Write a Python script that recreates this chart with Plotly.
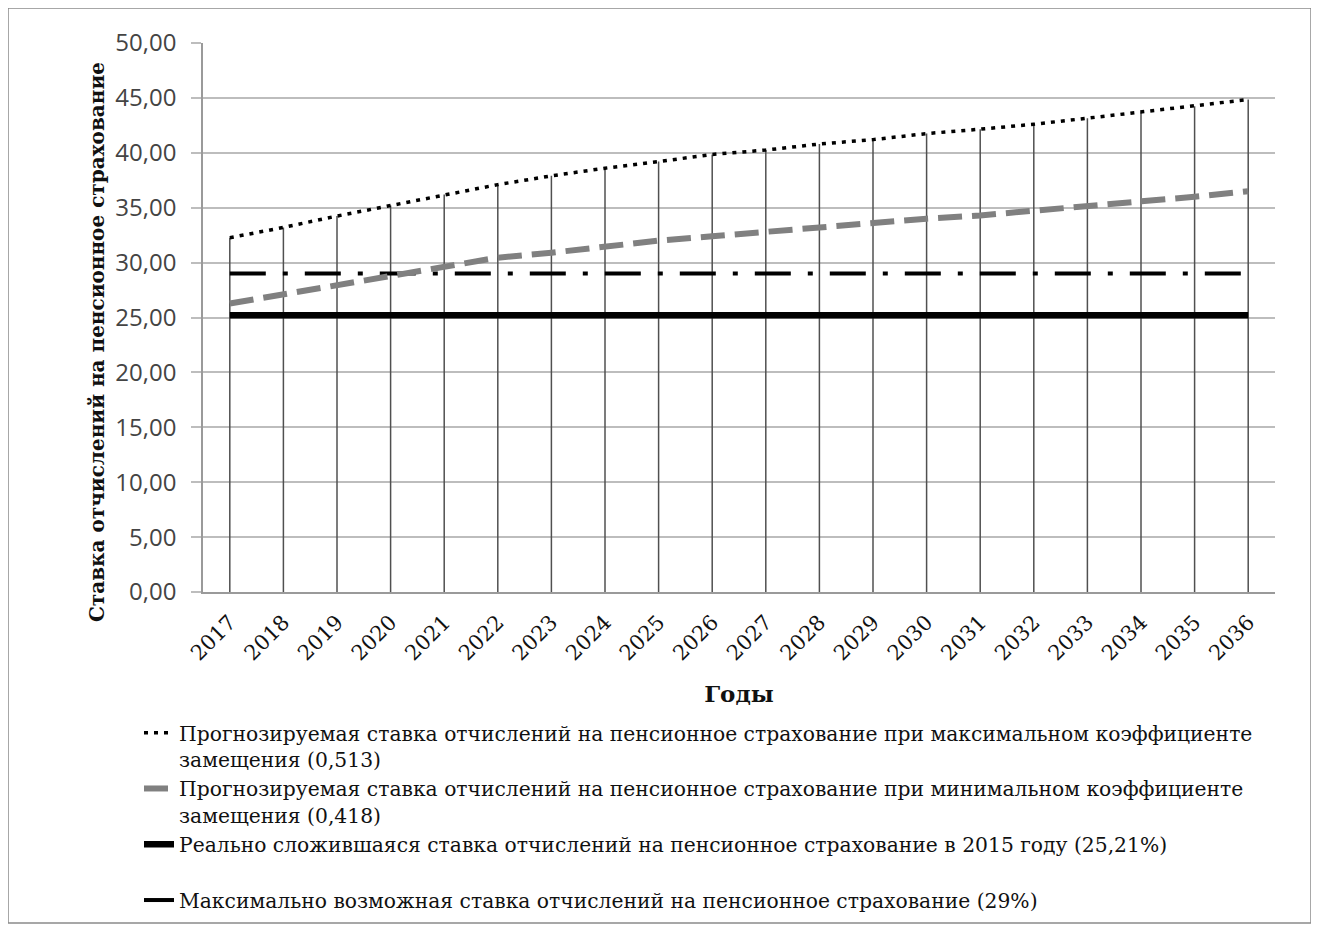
import plotly.graph_objects as go

years = list(range(2017, 2037))
max_rate = [32.27, 33.2, 34.24, 35.2, 36.2, 37.1, 37.9, 38.6, 39.2, 39.85,
            40.25, 40.8, 41.2, 41.75, 42.15, 42.6, 43.15, 43.7, 44.25, 44.85]
min_rate = [26.27, 27.1, 28.0, 28.8, 29.7, 30.45, 30.9, 31.45, 32.0, 32.4,
            32.8, 33.25, 33.6, 34.0, 34.3, 34.7, 35.15, 35.55, 36.0, 36.5]
actual_2015 = [25.21] * len(years)
max_possible = [29.0] * len(years)

names = [
    "Прогнозируемая ставка отчислений на пенсионное страхование при максимальном коэффициенте<br>замещения (0,513)",
    "Прогнозируемая ставка отчислений на пенсионное страхование при минимальном коэффициенте<br>замещения (0,418)",
    "Реально сложившаяся ставка отчислений на пенсионное страхование в 2015 году (25,21%)<br> ",
    "Максимально возможная ставка отчислений на пенсионное страхование (29%)",
]
y_title = "Ставка отчислений на пенсионное страхование"
x_title = "Годы"
y_ticks = [0, 5, 10, 15, 20, 25, 30, 35, 40, 45, 50]

# drop lines: from axis to the highest series value at each year
drop_x, drop_y = [], []
for i, x in enumerate(years):
    top = max(max_rate[i], min_rate[i], actual_2015[i], max_possible[i])
    drop_x += [x, x, None]
    drop_y += [0, top, None]

SERIF = "DejaVu Serif, Liberation Serif, serif"
fig = go.Figure()
fig.add_trace(go.Scatter(x=drop_x, y=drop_y, mode="lines",
                         line=dict(color="#505050", width=1.5),
                         showlegend=False, hoverinfo="skip"))
fig.add_trace(go.Scatter(x=years, y=max_possible, mode="lines", name=names[3],
                         line=dict(color="black", width=4, dash="36px,17px,5px,17px"),
                         legendrank=4))
fig.add_trace(go.Scatter(x=years, y=actual_2015, mode="lines", name=names[2],
                         line=dict(color="black", width=6.5), legendrank=3))
fig.add_trace(go.Scatter(x=years, y=min_rate, mode="lines", name=names[1],
                         line=dict(color="#808080", width=6, dash="24px,10px"),
                         legendrank=2))
fig.add_trace(go.Scatter(x=years, y=max_rate, mode="lines", name=names[0],
                         line=dict(color="black", width=3.5, dash="4px,6px"),
                         legendrank=1))

fig.update_layout(
    width=1311, height=923,
    margin=dict(l=195, r=44, t=35, b=339, autoexpand=False),
    paper_bgcolor="white", plot_bgcolor="white",
    separators=", ",
    showlegend=True,
    legend=dict(x=-0.0597, y=-0.2204, xanchor="left", yanchor="top",
                orientation="v", valign="top", traceorder="normal",
                font=dict(family=SERIF, size=20.3, color="#111"),
                bgcolor="rgba(0,0,0,0)", tracegroupgap=0),
    xaxis=dict(range=[2016.5, 2036.5], tickmode="array", tickvals=years,
               ticktext=[str(y) for y in years], tickangle=-45,
               showgrid=False, showline=True, linecolor="#9a9a9a", linewidth=1.5,
               ticks="", zeroline=False, automargin=False, ticklabelstandoff=8,
               tickfont=dict(family=SERIF, size=21, color="#111"),
               title=dict(text="<b>" + x_title + "</b>",
                          font=dict(family=SERIF, size=23, color="#111"),
                          standoff=22)),
    yaxis=dict(range=[0, 50], tickmode="array", tickvals=y_ticks, tickformat=".2f",
               showgrid=True, gridcolor="#bdbdbd", gridwidth=1.5,
               showline=True, linecolor="#9a9a9a", linewidth=1.5,
               ticks="outside", ticklen=10, tickcolor="#bdbdbd", tickwidth=1.5,
               zeroline=False, automargin=False, ticklabelstandoff=10,
               tickfont=dict(family="Open Sans, sans-serif", size=24, color="#444")),
    annotations=[dict(text="<b>" + y_title + "</b>", xref="paper", yref="paper",
                      x=-0.099, y=0.455, xanchor="center", yanchor="middle",
                      textangle=-90, showarrow=False,
                      font=dict(family=SERIF, size=20, color="#111"))],
    shapes=[dict(type="rect", xref="paper", yref="paper",
                 x0=-0.1819, x1=1.0336, y0=-0.603, y1=1.0638,
                 line=dict(color="#8a8a8a", width=1.5), fillcolor="rgba(0,0,0,0)",
                 layer="below")],
)

fig.write_html("out.html")
